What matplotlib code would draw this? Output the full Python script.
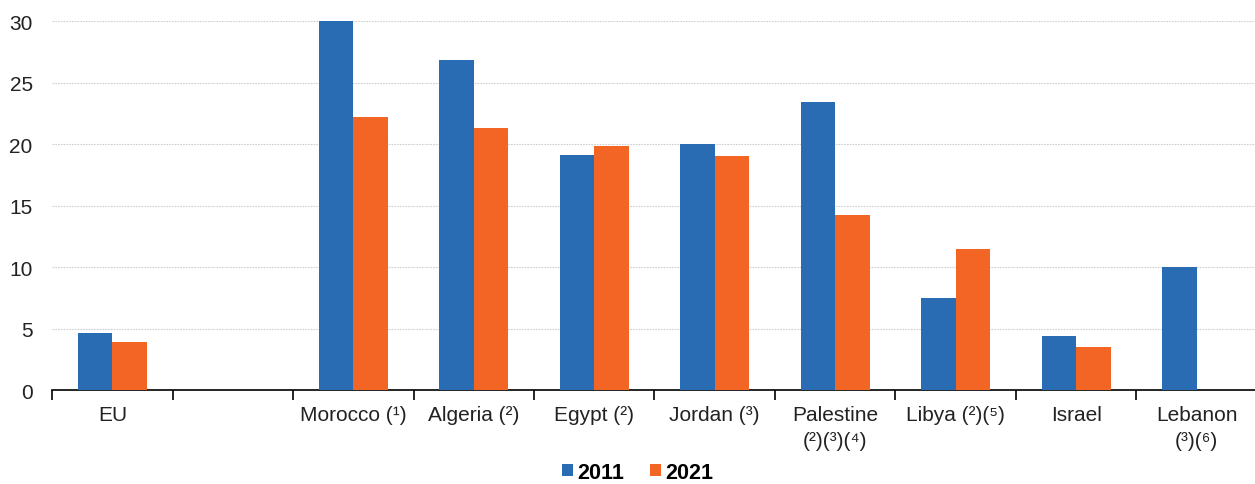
import matplotlib.pyplot as plt
import numpy as np

plt.rcParams['font.family'] = ['Liberation Sans', 'DejaVu Sans']

# %%
# Data
categories = ["EU", "", "Morocco (¹)", "Algeria (²)", "Egypt (²)", "Jordan (³)",
              "Palestine\n(²)(³)(⁴)", "Libya (²)(⁵)", "Israel", "Lebanon\n(³)(⁶)"]
values_2011 = [4.6, np.nan, 30.0, 26.8, 19.1, 20.0, 23.4, 7.5, 4.4, 10.0]
values_2021 = [3.9, np.nan, 22.2, 21.3, 19.8, 19.0, 14.2, 11.5, 3.5, np.nan]
yticks = [0, 5, 10, 15, 20, 25, 30]

blue = "#2a6cb3"
orange = "#f26524"

# %%
# Plot
fig = plt.figure(figsize=(12.55, 4.85), dpi=100)
ax = fig.add_axes([0.0415, 0.1938, 0.9600, 0.7608])

x = np.arange(len(categories))
w = 0.286
ax.bar(x - w / 2, values_2011, w, color=blue, label="2011", zorder=3)
ax.bar(x + w / 2, values_2021, w, color=orange, label="2021", zorder=3)

ax.set_xlim(-0.5, len(categories) - 0.5)
ax.set_ylim(0, 30)
ax.set_yticks(yticks)
ax.yaxis.grid(True, linestyle=(0, (1.5, 1)), color="#cfcfcf", linewidth=0.8, zorder=0)

# category boundaries carry the tick marks, labels sit at centres
ax.set_xticks(np.arange(-0.5, len(categories)), minor=False)
ax.set_xticklabels([])
ax.set_xticks(x, minor=True)
ax.set_xticklabels(categories, minor=True, fontsize=15, color="#222222", linespacing=1.45)
ax.tick_params(axis="x", which="major", length=7, width=1.2, direction="out", color="black")
ax.tick_params(axis="x", which="minor", length=0, pad=11)
ax.tick_params(axis="y", length=0, pad=14, labelsize=15, labelcolor="#222222")

for side in ["left", "right", "top"]:
    ax.spines[side].set_visible(False)
ax.spines["bottom"].set_linewidth(1.2)

fig.legend(loc="center", bbox_to_anchor=(0.508, 0.024), ncol=2, frameon=False,
           handlelength=0.5, handleheight=0.5, handletextpad=0.2, columnspacing=1.2,
           borderpad=0.1, prop={"weight": "bold", "size": 15.5})

fig.savefig("out.png", dpi=100)
